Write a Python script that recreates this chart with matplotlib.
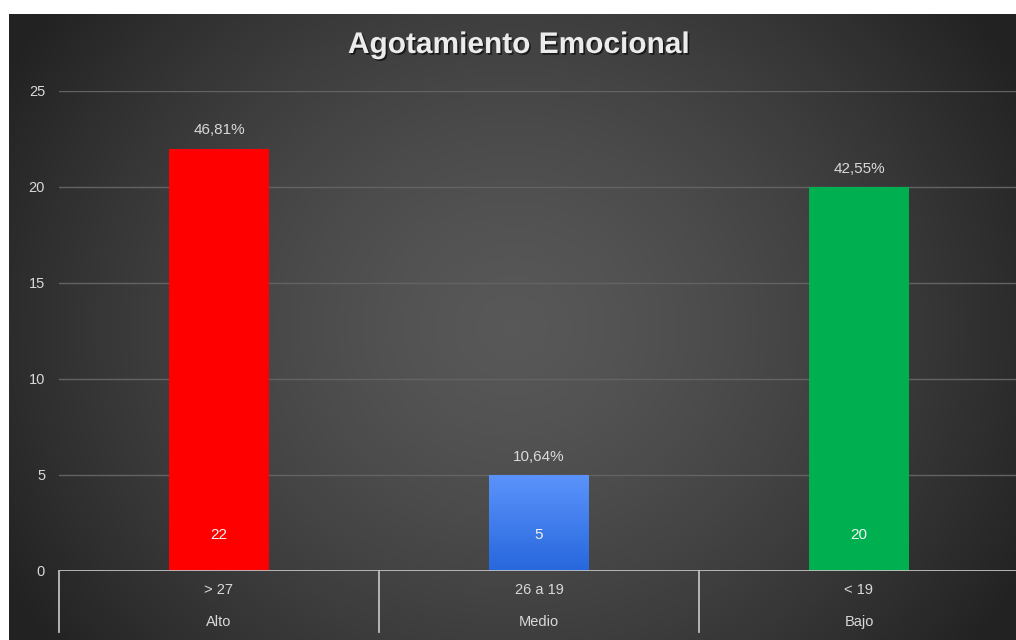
import numpy as np
import matplotlib.pyplot as plt
import matplotlib.patheffects as pe
from matplotlib.colors import LinearSegmentedColormap

plt.rcParams['font.family'] = ['Liberation Sans', 'DejaVu Sans']

# datos del grafico
titulo = 'Agotamiento Emocional'
rangos = ['> 27', '26 a 19', '< 19']
niveles = ['Alto', 'Medio', 'Bajo']
cantidades = [22, 5, 20]
porcentajes = ['46,81%', '10,64%', '42,55%']
colores = ['#ff0000', '#3b7cf0', '#00b050']

fig = plt.figure(figsize=(10.16, 6.4), dpi=100)
fig.patch.set_facecolor('white')

# fondo oscuro con degradado
bg = fig.add_axes([9 / 1016, 0, 1 - 9 / 1016, 626 / 640])
yy, xx = np.mgrid[0:1:300j, 0:1:500j]
r = np.sqrt(((xx - 0.5) / 0.58) ** 2 + ((yy - 0.5) / 0.85) ** 2)
r = np.clip(r, 0, 1) ** 1.4
cmap_bg = LinearSegmentedColormap.from_list('bg', ['#585858', '#222222'])
bg.imshow(r, cmap=cmap_bg, aspect='auto', extent=[0, 1, 0, 1], origin='lower')
bg.axis('off')

ax = fig.add_axes([59 / 1016, 69 / 640, 960 / 1016, 480 / 640])
ax.set_facecolor('none')
x = np.arange(len(cantidades))
bars = ax.bar(x, cantidades, width=0.3125, color=colores, zorder=3)

# barra azul con degradado
b = bars[1]
b.set_facecolor('none')
grad = np.linspace(0, 1, 100).reshape(-1, 1)
cmap_azul = LinearSegmentedColormap.from_list('azul', ['#2767dd', '#5b93fb'])
im = ax.imshow(grad, cmap=cmap_azul, origin='lower', aspect='auto',
               extent=[b.get_x(), b.get_x() + b.get_width(), 0, b.get_height()], zorder=3)
im.set_clip_path(b)

ax.set_xlim(-0.5, 2.5)
ax.set_ylim(0, 25)
ax.set_yticks(range(0, 26, 5))
ax.set_xticks([])
ax.tick_params(axis='y', length=0, pad=10, labelcolor='#d9d9d9', labelsize=10.5)
for s in ax.spines.values():
    s.set_visible(False)
ax.grid(axis='y', color='#636363', linewidth=1.0, zorder=0)
ax.axhline(0, color='#bfbfbf', linewidth=1.3, zorder=4)

for i in range(len(cantidades)):
    ax.text(x[i], cantidades[i] + 0.95, porcentajes[i], ha='center', va='center',
            color='#d9d9d9', fontsize=11)
    ax.text(x[i], 1.9, str(cantidades[i]), ha='center', va='center',
            color='#f2f2f2', fontsize=11, zorder=5)
    ax.text(x[i], -0.04, rangos[i], transform=ax.get_xaxis_transform(),
            ha='center', va='center', color='#d9d9d9', fontsize=10.5)
    ax.text(x[i], -0.107, niveles[i], transform=ax.get_xaxis_transform(),
            ha='center', va='center', color='#d9d9d9', fontsize=10.5)

# separadores de categorias
for xs in [-0.5, 0.5, 1.5, 2.5]:
    ax.plot([xs, xs], [0, -0.127], transform=ax.get_xaxis_transform(),
            color='#bfbfbf', linewidth=1.3, clip_on=False)

fig.text(519 / 1016, 1 - 45 / 640, titulo, ha='center', va='center',
         fontsize=21.5, fontweight='bold', color='#ececec',
         path_effects=[pe.withSimplePatchShadow(offset=(1.2, -1.2), shadow_rgbFace='black', alpha=0.6)])

fig.savefig('out.png', dpi=100)
